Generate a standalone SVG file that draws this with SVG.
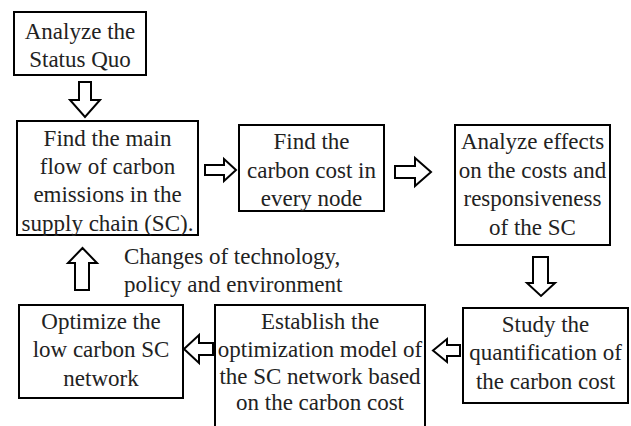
<svg xmlns="http://www.w3.org/2000/svg" width="631" height="426" viewBox="0 0 631 426" font-family="Liberation Serif, Times New Roman, Times, serif" font-size="23">
<style>
.box{fill:#fff;stroke:#000;stroke-width:2}
.arr{fill:#fff;stroke:#000;stroke-width:2;stroke-linejoin:miter}
text{fill:#222}
.c{text-anchor:middle}
</style>
<rect width="631" height="426" fill="#fff"/>
<g id="connectors">
<path class="arr" d="M79,82 H91 V100 H100 L85,117 L70,100 H79 Z"/>
<path class="arr" d="M205,165 H224 V159 L236,170 L224,181 V175 H205 Z"/>
<path class="arr" d="M395,166 H415 V158 L431,172 L415,186 V178 H395 Z"/>
<path class="arr" d="M533,257 H548 V283 H555 L541,296 L527,283 H533 Z"/>
<path class="arr" d="M460,345 H447 V339 L433,350.5 L447,362 V356 H460 Z"/>
<path class="arr" d="M213,343 H199 V335 L184,349 L199,363 V355 H213 Z"/>
<path class="arr" d="M75,290 V263 H68 L82.5,248 L97,263 H89 V290 Z"/>
<text x="124" y="264">Changes of technology,</text>
<text x="124" y="292">policy and environment</text>
</g>
<g id="n1">
<rect class="box" x="14" y="12" width="132" height="63"/>
<text class="c" x="80" y="39">Analyze the</text>
<text class="c" x="80" y="67">Status Quo</text>
</g>
<g id="n2">
<rect class="box" x="17" y="121" width="181" height="114"/>
<text class="c" x="107.5" y="146">Find the main</text>
<text class="c" x="107.5" y="174">flow of carbon</text>
<text class="c" x="107.5" y="202">emissions in the</text>
<text class="c" x="107.5" y="231">supply chain (SC).</text>
</g>
<g id="n3">
<rect class="box" x="239" y="125" width="145" height="86"/>
<text class="c" x="311.5" y="149">Find the</text>
<text class="c" x="311.5" y="178">carbon cost in</text>
<text class="c" x="311.5" y="206">every node</text>
</g>
<g id="n4">
<rect class="box" x="455" y="125" width="155" height="120"/>
<text class="c" x="532.5" y="149">Analyze effects</text>
<text class="c" x="532.5" y="178">on the costs and</text>
<text class="c" x="532.5" y="206">responsiveness</text>
<text class="c" x="532.5" y="235">of the SC</text>
</g>
<g id="n5">
<rect class="box" x="463" y="308" width="165" height="95"/>
<text class="c" x="545.5" y="332">Study the</text>
<text class="c" x="545.5" y="360">quantification of</text>
<text class="c" x="545.5" y="389">the carbon cost</text>
</g>
<g id="n6">
<rect class="box" x="215" y="305" width="210" height="130"/>
<text class="c" x="320" y="329">Establish the</text>
<text class="c" x="320" y="357">optimization model of</text>
<text class="c" x="320" y="384">the SC network based</text>
<text class="c" x="320" y="410">on the carbon cost</text>
</g>
<g id="n7">
<rect class="box" x="19" y="305" width="164" height="93"/>
<text class="c" x="101" y="329">Optimize the</text>
<text class="c" x="101" y="357">low carbon SC</text>
<text class="c" x="101" y="386">network</text>
</g>
</svg>
